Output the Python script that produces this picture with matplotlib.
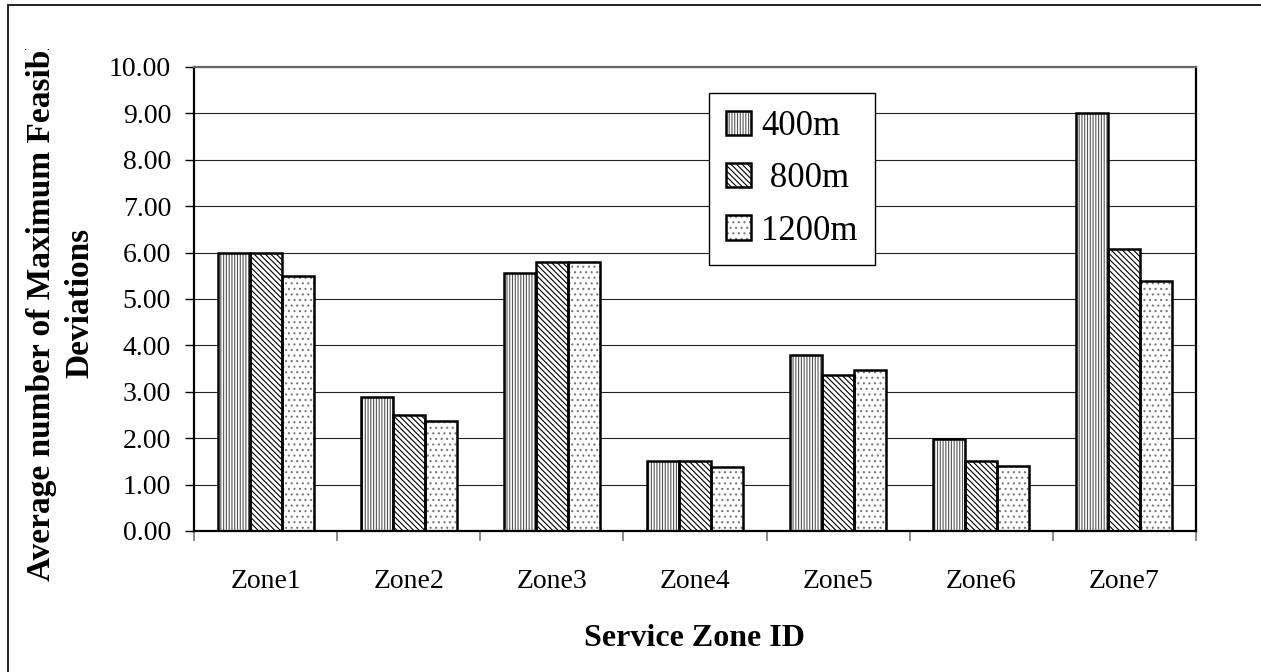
import numpy as np
import matplotlib
matplotlib.use("Agg")
import matplotlib.pyplot as plt
from matplotlib.patches import Patch, Rectangle
from matplotlib.legend_handler import HandlerTuple
from matplotlib.transforms import Bbox, TransformedBbox

plt.rcParams['font.family'] = ['Liberation Serif', 'DejaVu Serif']
plt.rcParams['hatch.linewidth'] = 0.8

zones = ['Zone1', 'Zone2', 'Zone3', 'Zone4', 'Zone5', 'Zone6', 'Zone7']
series = ['400m', ' 800m', '1200m']
vals_400 = [6.00, 2.88, 5.56, 1.51, 3.79, 1.99, 9.00]
vals_800 = [6.00, 2.50, 5.80, 1.51, 3.37, 1.50, 6.07]
vals_1200 = [5.50, 2.37, 5.80, 1.37, 3.48, 1.41, 5.38]
yticks = np.arange(0, 11, 1)

hatches = ['||||||', '\\\\\\\\\\\\', '...']
hatch_colors = ['#555555', '#000000', '#777777']

W, H = 1261, 672
fig = plt.figure(figsize=(W / 100, H / 100), dpi=100)
ax = fig.add_axes([194 / W, 1 - 531 / H, (1196 - 194) / W, (531 - 67) / H])

x = np.arange(len(zones))
bw = 0.2233
handles = []
for i, vals in enumerate([vals_400, vals_800, vals_1200]):
    pos = x + (i - 1) * bw
    # hatch layer, then a black outline on top
    ax.bar(pos, vals, bw, facecolor='white', edgecolor=hatch_colors[i],
           hatch=hatches[i], linewidth=0, zorder=2)
    ax.bar(pos, vals, bw, fill=False, edgecolor='black', linewidth=1.8, zorder=3)
    h1 = Patch(facecolor='white', edgecolor=hatch_colors[i], hatch=hatches[i], linewidth=0)
    h2 = Patch(fill=False, edgecolor='black', linewidth=1.8)
    handles.append((h1, h2))

ax.set_xlim(-0.5, len(zones) - 0.5)
ax.set_ylim(0, 10)
ax.set_yticks(yticks)
ax.set_yticklabels(['%.2f' % v for v in yticks], fontsize=20)
ax.yaxis.grid(True, color='#222222', linewidth=0.8, zorder=0)
ax.set_axisbelow(True)

ax.set_xticks(np.arange(-0.5, len(zones), 1))
ax.set_xticklabels([])
ax.set_xticks(x, minor=True)
ax.set_xticklabels(zones, minor=True, fontsize=20)
ax.tick_params(axis='x', which='major', direction='out', length=7, width=1.2, color='#777777')
ax.tick_params(axis='x', which='minor', length=0, pad=27)
ax.tick_params(axis='y', direction='out', length=6.5, width=1, pad=10)

for side in ['left', 'bottom', 'right']:
    ax.spines[side].set_linewidth(1.6)
    ax.spines[side].set_color('black')
ax.spines['top'].set_linewidth(1.6)
ax.spines['top'].set_color('#666666')

ax.set_xlabel('Service Zone ID', fontsize=23, fontweight='bold', labelpad=22)

ylab = fig.text(61 / W, 1 - 303 / H,
                'Average number of Maximum Feasible\nDeviations',
                rotation=90, ha='center', va='center', multialignment='center',
                fontsize=24, fontweight='bold', linespacing=1.3)
ylab.set_clip_box(TransformedBbox(Bbox([[0, 0], [1, 1 - 49 / H]]), fig.transFigure))
ylab.set_clip_on(True)

leg = ax.legend(handles, series, handler_map={tuple: HandlerTuple(ndivide=1)},
                loc='upper left', bbox_to_anchor=(709 / W, 1 - 93 / H),
                bbox_transform=fig.transFigure, fontsize=25, frameon=True,
                fancybox=False, edgecolor='black', framealpha=1,
                handlelength=0.7, handleheight=0.7, handletextpad=0.3,
                labelspacing=0.55, borderpad=0.5, borderaxespad=0)
leg.get_frame().set_linewidth(1.0)
leg.set_zorder(5)

# chart border
fig.add_artist(Rectangle((8 / W, -0.1), 1.2, 1 - 5 / H + 0.1,
                         transform=fig.transFigure, fill=False,
                         edgecolor='#222222', linewidth=1.4))

fig.savefig('out.png', dpi=100)
